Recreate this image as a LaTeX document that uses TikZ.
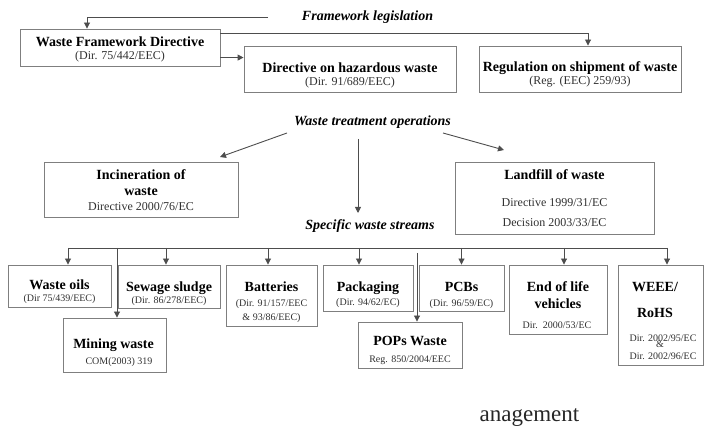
\documentclass[tikz,border=0pt]{standalone}
\usepackage{fontspec}
\setmainfont{Liberation Serif}
\usetikzlibrary{arrows.meta,calc}
\definecolor{boxc}{HTML}{7F7F7F}
\definecolor{linec}{HTML}{4D4D4D}
\definecolor{subc}{HTML}{303030}
\newcommand\wbox[5]{\node[box,minimum width={#4-#2},minimum height={#5-#3}] (#1) at ({(#2+#4)/2},{(#3+#5)/2}) {};}
\begin{document}
\begin{tikzpicture}[x=1pt,y=-1pt,
  box/.style={draw=boxc,line width=0.9pt,rectangle,inner sep=0pt,fill=none},
  conn/.style={draw=linec,line width=0.9pt},
  arr/.style={conn,-{Triangle[length=6pt,width=6pt]}},
  ttl/.style={font=\fontsize{14}{16}\selectfont\bfseries,anchor=base,inner sep=0pt},
  sub/.style={font=\fontsize{10}{12}\selectfont,text=subc,anchor=base,inner sep=0pt},
  subl/.style={font=\fontsize{12}{14}\selectfont,text=subc,anchor=base,inner sep=0pt},
  hdr/.style={font=\fontsize{14}{16}\selectfont\bfseries\itshape,inner sep=0pt},
]
\useasboundingbox (0,0) rectangle (704,427);

% boxes
\wbox{wfd}{20}{29}{220}{66}
\wbox{haz}{244}{46}{456}{92}
\wbox{reg}{479}{46}{681}{92}
\wbox{inc}{44}{162}{238}{217}
\wbox{lan}{455}{162}{654}{234}
\wbox{oil}{8}{265}{111}{307}
\wbox{sew}{118}{265}{220}{308}
\wbox{bat}{226}{265}{317}{326}
\wbox{mnw}{63}{318}{166}{372}
\wbox{pac}{323}{265}{413}{311}
\wbox{pcb}{419}{265}{504}{311}
\wbox{pop}{358}{322}{462}{368}
\wbox{eol}{509}{265}{607}{334}
\wbox{wee}{618}{265}{703}{365}

% box texts
\node[ttl] (wfdA) at (120,46.5) {Waste Framework Directive};
\node[subl] (wfdB) at (120,60) {(Dir. 75/442/EEC)};
\node[ttl] (hazA) at (350,72.5) {Directive on hazardous waste};
\node[subl] (hazB) at (350,86) {(Dir. 91/689/EEC)};
\node[ttl] (regA) at (580,71.5) {Regulation on shipment of waste};
\node[subl] (regB) at (580,85) {(Reg. (EEC) 259/93)};
\node[ttl] (incA) at (141,179.5) {Incineration of};
\node[ttl] (incB) at (141,195.5) {waste};
\node[subl] (incC) at (141,211) {Directive 2000/76/EC};
\node[ttl] (lanA) at (554.5,179.5) {Landfill of waste};
\node[subl] (lanB) at (554.5,207) {Directive 1999/31/EC};
\node[subl] (lanC) at (554.5,227) {Decision 2003/33/EC};
\node[ttl] (oilA) at (59.5,289.5) {Waste oils};
\node[sub] (oilB) at (59.5,301.5) {(Dir 75/439/EEC)};
\node[ttl] (sewA) at (169,291.5) {Sewage sludge};
\node[sub] (sewB) at (169,303.5) {(Dir. 86/278/EEC)};
\node[ttl] (batA) at (271.5,291.5) {Batteries};
\node[sub] (batB) at (271.5,306.5) {(Dir. 91/157/EEC};
\node[sub] (batC) at (271.5,320.5) {\& 93/86/EEC)};
\node[ttl] (mnwA) at (113.5,348.5) {Mining waste};
\node[sub] (mnwB) at (119,364.5) {COM(2003) 319};
\node[ttl] (pacA) at (368,291.5) {Packaging};
\node[sub] (pacB) at (368,305.5) {(Dir. 94/62/EC)};
\node[ttl] (pcbA) at (461.5,291.5) {PCBs};
\node[sub] (pcbB) at (461.5,306.5) {(Dir. 96/59/EC)};
\node[ttl] (popA) at (410,345.5) {POPs Waste};
\node[sub] (popB) at (410,362.5) {Reg. 850/2004/EEC};
\node[ttl] (eolA) at (558,291.5) {End of life};
\node[ttl] (eolB) at (558,308.5) {vehicles};
\node[sub] (eolC) at (557,328.5) {Dir.\ \ 2000/53/EC};
\node[ttl] (weeA) at (655,291.5) {WEEE/};
\node[ttl] (weeB) at (655,317.5) {RoHS};
\node[sub] (weeC) at (663,341.5) {Dir. 2002/95/EC};
\node[sub] (weeD) at (660,348) {\&};
\node[sub] (weeE) at (663,359.5) {Dir. 2002/96/EC};

% headings
\node[hdr] (fl) at (367.5,17) {Framework legislation};
\node[hdr] (wto) at (372.5,122) {Waste treatment operations};
\node[hdr] (sws) at (370,226) {Specific waste streams};
\node[font=\fontsize{23}{26}\selectfont,text=black!85,anchor=base,inner sep=0pt] (anag) at (529.5,421) {anagement};

% framework connectors
\coordinate (flL) at (268,17);
\draw[arr] (flL) -| ([xshift=-33pt]wfd.north);
\draw[arr] ($(wfd.north east)+(0,5)$) -| ([xshift=8pt]reg.north);
\draw[arr] ($(wfd.north east)+(0,29)$) coordinate (hz0) -- (hz0 -| haz.west);

% treatment connectors
\coordinate (w1) at (287,133);
\coordinate (w1e) at (220,157);
\coordinate (w2) at (443,133);
\coordinate (w2e) at (504,150);
\coordinate (w3) at (358,139);
\coordinate (w3e) at (358,213);
\draw[arr] (w1) -- (w1e);
\draw[arr] (w2) -- (w2e);
\draw[arr] (w3) -- (w3e);

% specific streams bus
\coordinate (busL) at (68,248);
\coordinate (busR) at (667,248);
\draw[conn] (busL) -- (busR);
\draw[arr] ([xshift=8.5pt]oil.north |- busL) -- ([xshift=8.5pt]oil.north);
\draw[arr] ([xshift=-3pt]sew.north |- busL) -- ([xshift=-3pt]sew.north);
\draw[arr] ([xshift=-3.5pt]bat.north |- busL) -- ([xshift=-3.5pt]bat.north);
\draw[arr] ([xshift=-9pt]pac.north |- busL) -- ([xshift=-9pt]pac.north);
\draw[arr] (pcb.north |- busL) -- (pcb.north);
\draw[arr] ([xshift=6pt]eol.north |- busL) -- ([xshift=6pt]eol.north);
\draw[arr] ([xshift=6.5pt]wee.north |- busL) -- ([xshift=6.5pt]wee.north);
\draw[arr] ([xshift=2.5pt]mnw.north |- busL) -- ([xshift=2.5pt]mnw.north);
\coordinate (popTop) at (417,253);
\draw[arr] (popTop) -- (popTop |- pop.north);
\end{tikzpicture}
\end{document}
